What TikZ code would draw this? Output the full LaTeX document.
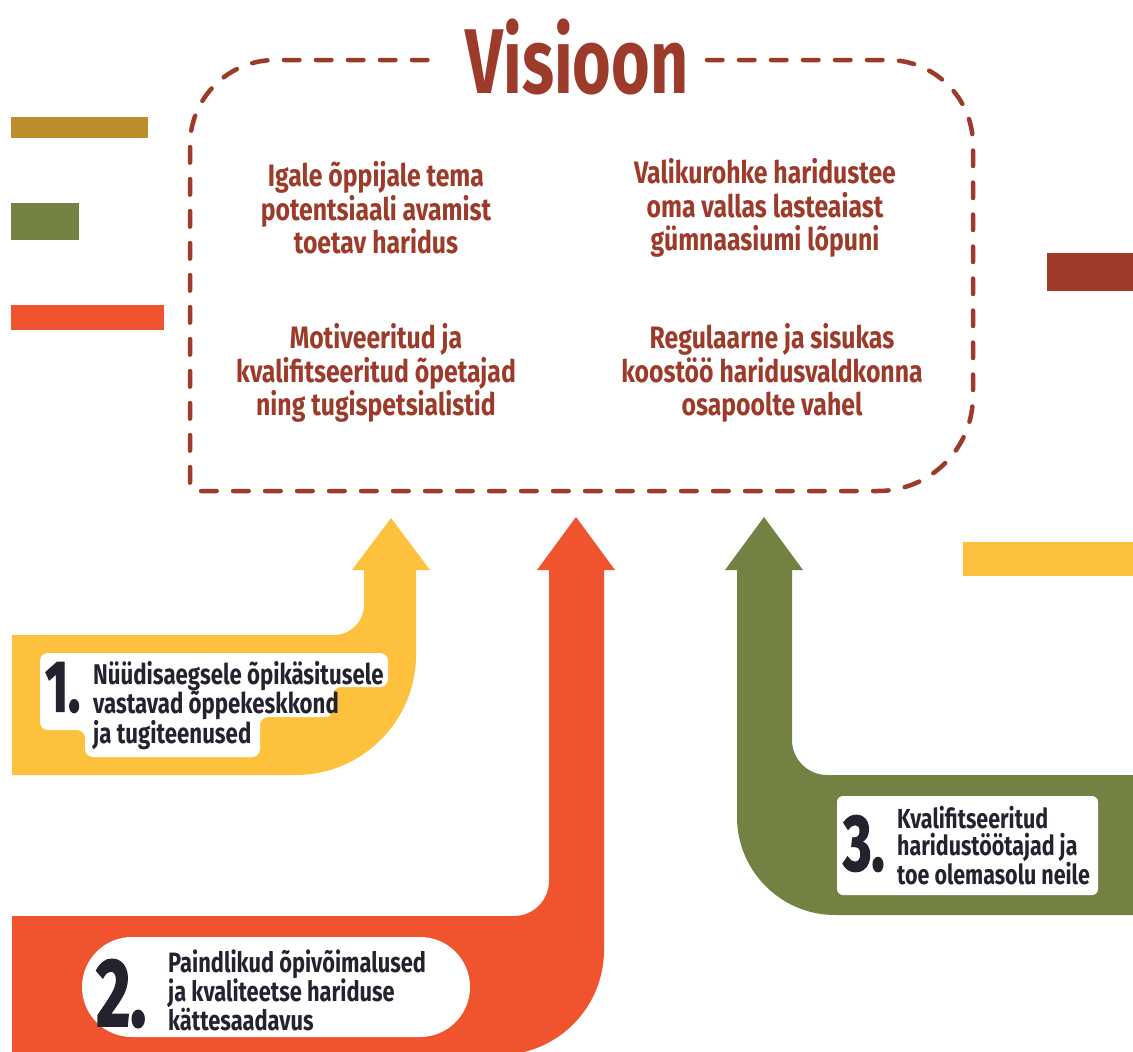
\documentclass[tikz,border=0pt]{standalone}
\usepackage{fontspec}
\usetikzlibrary{positioning}
\newfontfamily\visfont[FakeStretch=0.72]{Fira Sans}
\newfontfamily\goalfont[FakeStretch=0.8]{Fira Sans}
\newfontfamily\lblfont[FakeStretch=0.78]{Fira Sans}
\newfontfamily\numfont[FakeStretch=0.68, FakeBold=1.5]{Fira Sans}
\definecolor{visred}{HTML}{9D3B2A}
\definecolor{inkdark}{HTML}{24222E}
\definecolor{barGold}{HTML}{BC8E2B}
\definecolor{barOlive}{HTML}{738142}
\definecolor{barOrange}{HTML}{F0542E}
\definecolor{barBrown}{HTML}{9E3B28}
\definecolor{barYellow}{HTML}{FDC13E}

\begin{document}
\begin{tikzpicture}[x=1pt, y=-1pt,
    goal/.style={font=\goalfont\bfseries\fontsize{31}{33.5}\selectfont,
      text=visred, align=center, inner sep=0},
    lbltext/.style 2 args={font=\lblfont\bfseries\fontsize{#1}{#2}\selectfont,
      text=inkdark, align=left, inner sep=0, anchor=north west},
    lblnum/.style={font=\numfont\bfseries\fontsize{#1}{#1}\selectfont,
      text=inkdark, inner sep=0, anchor=south west},
    dashline/.style={draw=visred, line width=4.5pt, line cap=round,
      dash pattern=on 15.5pt off 16.5pt}]
  \useasboundingbox (0,0) rectangle (1133,1052);

  % SIDE BARS

  \fill[barGold]   (11,117) rectangle (148,138);
  \fill[barOlive]  (11,203) rectangle (79,240);
  \fill[barOrange] (11,305) rectangle (164,330);
  \fill[barBrown]  (1047,253) rectangle (1133,291);
  \fill[barYellow] (963,542) rectangle (1133,576);

  % ARROWS

  \fill[barYellow] (12,635) -- (334,635)
    .. controls (350.5,635) and (364,621.5) .. (364,605)
    -- (364,570) -- (352,570) -- (391,518) -- (430,570) -- (416,570)
    -- (416,655) .. controls (416,721) and (362,775) .. (296,775)
    -- (12,775) -- cycle;

  \fill[barOrange] (12,916) -- (514,916)
    .. controls (533.3,916) and (549,900.3) .. (549,881)
    -- (549,570) -- (537,570) -- (576,517) -- (615,570) -- (604,570)
    -- (604,950) .. controls (604,1008) and (557,1055) .. (499,1055)
    -- (12,1055) -- cycle;

  \fill[barOlive] (1140,775) -- (827,775)
    .. controls (807.7,775) and (792,759.3) .. (792,740)
    -- (792,570) -- (803,570) -- (764,517) -- (725,570) -- (737,570)
    -- (737,817) .. controls (737,871) and (781,915) .. (835,915)
    -- (1140,915) -- cycle;

  % LABEL BACKGROUNDS

  \fill[white, rounded corners=8] (40,653) -- (388,653) -- (388,687)
    -- (333,687) -- (333,717) -- (260,717) -- (260,757) -- (85,757)
    -- (85,730) -- (40,730) -- cycle;
  \fill[white, rounded corners=50] (82,937) rectangle (470,1037);
  \fill[white, rounded corners=6] (837,796) rectangle (1098,895);

  % LABELS

  \node[lblnum=73] (numone) at (45,713) {1.};
  \node[lbltext={28.5}{29.5}] (txtone) at (93,661)
    {Nüüdisaegsele õpikäsitusele\\vastavad õppekeskkond\\ja tugiteenused};

  \node[lblnum=97] (numtwo) at (96,1028) {2.};
  \node[lbltext={28}{29}] (txttwo) at (168,950)
    {Paindlikud õpivõimalused\\ja kvaliteetse hariduse\\kättesaadavus};

  \node[lblnum=80] (numthree) at (843,872) {3.};
  \node[lbltext={27.5}{27}] (txtthree) at (897,806)
    {Kvalifitseeritud\\haridustöötajad ja\\toe olemasolu neile};

  % VISION BOX

  \draw[dashline] (707,60) -- (888,60)
    .. controls (934.8,60) and (973,98.2) .. (973,145) -- (973,396)
    .. controls (973,448.3) and (930.3,491) .. (878,491) -- (197,491)
    .. controls (193,491) and (190,488) .. (190,484) -- (190,145)
    .. controls (190,98.2) and (228.2,60) .. (275,60) -- (436,60);

  \node[font=\visfont\bfseries\fontsize{92}{92}\selectfont, text=visred,
    inner sep=0] (title) at (577,57) {Visioon};

  \node[goal] (goalpupil) at (376,208)
    {Igale õppijale tema\\potentsiaali avamist\\toetav haridus};
  \node[goal] (goalpath) at (765,208)
    {Valikurohke haridustee\\oma vallas lasteaiast\\gümnaasiumi lõpuni};
  \node[goal] (goalteach) at (376,373)
    {Motiveeritud ja\\kvalifitseeritud õpetajad\\ning tugispetsialistid};
  \node[goal] (goalcoop) at (772,373)
    {Regulaarne ja sisukas\\koostöö haridusvaldkonna\\osapoolte vahel};

\end{tikzpicture}
\end{document}
